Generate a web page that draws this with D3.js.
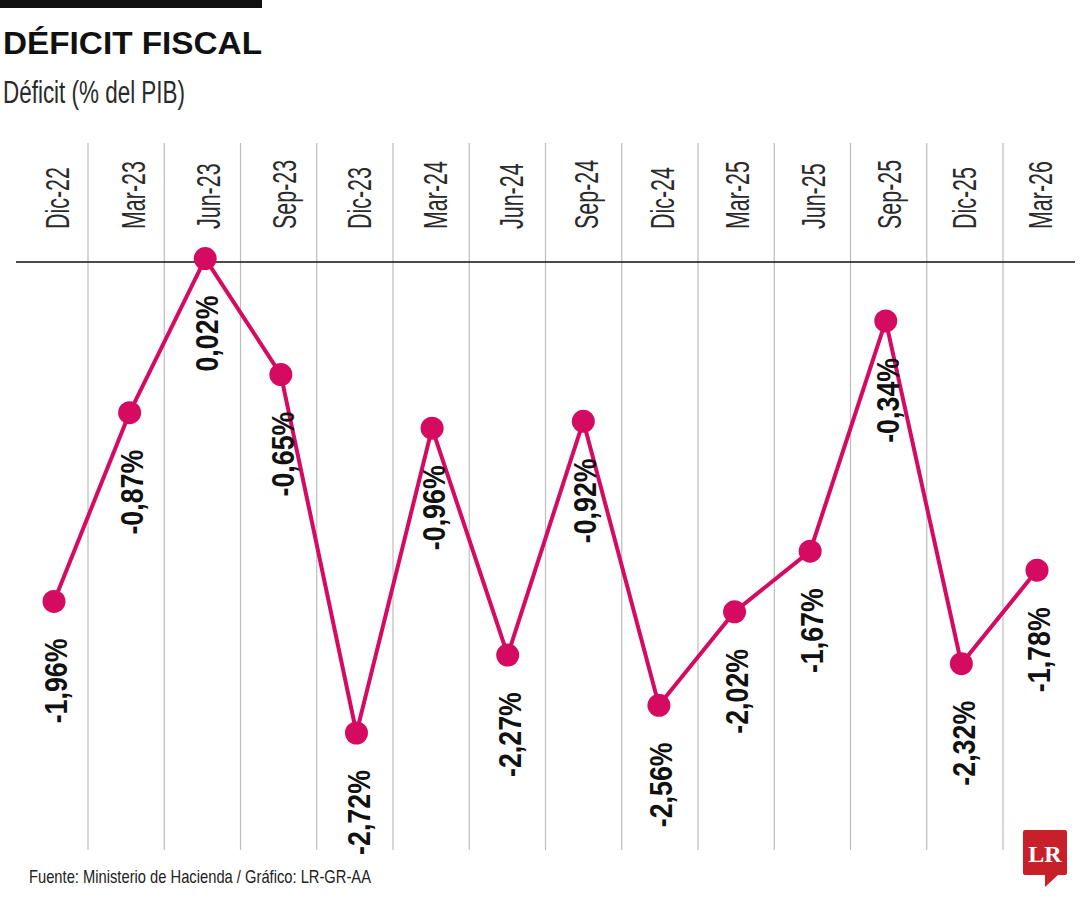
<!DOCTYPE html>
<html>
<head>
<meta charset="utf-8">
<script src="https://cdn.jsdelivr.net/npm/d3@7"></script>
<style>
  html, body { margin: 0; padding: 0; background: #fff; }
  svg { display: block; }
</style>
</head>
<body>
<svg id="chart"></svg>
<script>
// Déficit fiscal (% del PIB), trimestral
const periods = ["Dic-22", "Mar-23", "Jun-23", "Sep-23", "Dic-23", "Mar-24", "Jun-24",
                 "Sep-24", "Dic-24", "Mar-25", "Jun-25", "Sep-25", "Dic-25", "Mar-26"];
const deficit = [-1.96, -0.87, 0.02, -0.65, -2.72, -0.96, -2.27,
                 -0.92, -2.56, -2.02, -1.67, -0.34, -2.32, -1.78];

const TITLE = "DÉFICIT FISCAL";
const SUBTITLE = "Déficit (% del PIB)";
const SOURCE = "Fuente: Ministerio de Hacienda / Gráfico: LR-GR-AA";

const width = 1080;
const height = 900;
const LINE_COLOR = "#d50b62";
// no condensed face installed, so Liberation Sans gets squeezed with a scale()
const SANS = "'Liberation Sans', Arial, sans-serif";

const svg = d3.select("#chart")
  .attr("width", width)
  .attr("height", height);

// --- Scales ---
const x = d3.scalePoint().domain(periods).range([54, 1037]);
// column separators sit a bit off the midpoints in the original
const sep = d3.scaleLinear().domain([0.5, periods.length - 1.5]).range([88, 1003]);
const y = d3.scaleLinear().domain([0, -2.72]).range([262, 733]);

// --- Header ---
svg.append("rect")
  .attr("x", 0).attr("y", 0)
  .attr("width", 262).attr("height", 8)
  .attr("fill", "#111");

svg.append("text")
  .attr("x", 3).attr("y", 54)
  .attr("font-family", SANS)
  .attr("font-weight", 700)
  .attr("font-size", 31)
  .attr("textLength", 259)
  .attr("lengthAdjust", "spacingAndGlyphs")
  .attr("fill", "#111")
  .text(TITLE);

svg.append("text")
  .attr("x", 3).attr("y", 103)
  .attr("font-family", SANS)
  .attr("font-size", 31)
  .attr("textLength", 182)
  .attr("lengthAdjust", "spacingAndGlyphs")
  .attr("fill", "#2a2a2a")
  .text(SUBTITLE);

// --- Column separators ---
svg.append("g")
  .selectAll("line")
  .data(d3.range(0.5, periods.length - 1))
  .join("line")
  .attr("x1", d => sep(d)).attr("x2", d => sep(d))
  .attr("y1", 143).attr("y2", 850)
  .attr("stroke", "#bdbdbd")
  .attr("stroke-width", 1.2);

// --- Period labels (rotated) ---
svg.append("g")
  .selectAll("text")
  .data(periods)
  .join("text")
  .attr("transform", d => `translate(${x(d) + 3},229) rotate(-90) scale(0.65,1)`)
  .attr("dy", "0.36em")
  .attr("text-anchor", "start")
  .attr("font-family", SANS)
  .attr("font-size", 33)
  .attr("fill", "#2a2a2a")
  .text(d => d);

// --- Zero line ---
svg.append("line")
  .attr("x1", 16).attr("x2", 1075)
  .attr("y1", y(0)).attr("y2", y(0))
  .attr("stroke", "#111")
  .attr("stroke-width", 1.3);

// --- Series ---
const series = periods.map((p, i) => ({ p, v: deficit[i] }));

svg.append("path")
  .datum(series)
  .attr("fill", "none")
  .attr("stroke", LINE_COLOR)
  .attr("stroke-width", 4)
  .attr("stroke-linejoin", "round")
  .attr("d", d3.line().x(d => x(d.p)).y(d => y(d.v)));

svg.append("g")
  .selectAll("circle")
  .data(series)
  .join("circle")
  .attr("cx", d => x(d.p))
  .attr("cy", d => y(d.v))
  .attr("r", 11.5)
  .attr("fill", LINE_COLOR);

const fmt = v => v.toFixed(2).replace(".", ",") + "%";

svg.append("g")
  .selectAll("text")
  .data(series)
  .join("text")
  .attr("transform", d => `translate(${x(d.p) + 2},${y(d.v) + 37}) rotate(-90) scale(0.865,1)`)
  .attr("dy", "0.36em")
  .attr("text-anchor", "end")
  .attr("font-family", SANS)
  .attr("font-weight", 700)
  .attr("font-size", 31)
  .attr("fill", "#111")
  .text(d => fmt(d.v));

// --- Footer ---
svg.append("text")
  .attr("x", 29).attr("y", 883)
  .attr("font-family", SANS)
  .attr("font-size", 19)
  .attr("textLength", 342)
  .attr("lengthAdjust", "spacingAndGlyphs")
  .attr("fill", "#222")
  .text(SOURCE);

// LR logo (speech bubble)
const logo = svg.append("g").attr("transform", "translate(1023,830)");
logo.append("path")
  .attr("d", "M2,0H42a2,2 0 0 1 2,2V43a2,2 0 0 1 -2,2H35L22,57L22,45H2a2,2 0 0 1 -2,-2V2a2,2 0 0 1 2,-2Z")
  .attr("fill", "#c8202b");
logo.append("text")
  .attr("x", 22).attr("y", 32)
  .attr("text-anchor", "middle")
  .attr("font-family", "'Liberation Serif', 'DejaVu Serif', serif")
  .attr("font-weight", 700)
  .attr("font-size", 24)
  .attr("fill", "#fff")
  .text("LR");
</script>
</body>
</html>
